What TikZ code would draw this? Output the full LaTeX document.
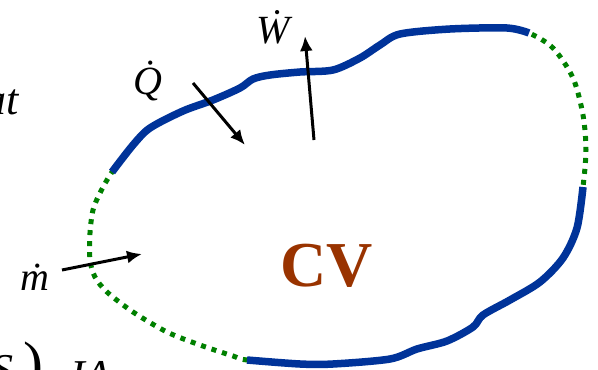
\documentclass[tikz,border=0pt]{standalone}
\usepackage{fontspec}
\setmainfont{Liberation Serif}
\usetikzlibrary{arrows.meta}
\definecolor{cvblue}{RGB}{0,51,153}
\definecolor{cvgreen}{RGB}{0,128,0}
\definecolor{cvbrown}{RGB}{153,51,0}
\tikzset{
  solidb/.style={line width=7.5pt, draw=cvblue, line cap=butt},
  dotg/.style={line width=5pt, draw=cvgreen, dash pattern=on 5pt off 6pt, line cap=butt},
  flow/.style={line width=3pt, -{Latex[length=15pt,width=13pt]}},
  lbl/.style={font=\fontsize{40}{46}\selectfont\itshape, inner sep=0pt},
  frag/.style={font=\fontsize{44}{50}\selectfont\itshape, inner sep=0pt}
}
\begin{document}
\begin{tikzpicture}[x=1pt,y=-1pt]
\useasboundingbox (0,0) rectangle (598,370);
\clip (0,0) rectangle (598,370);
% whole boundary, dotted
\draw[dotg] plot[smooth cycle, tension=0.5] coordinates {
 (112,172) (133,145) (150,128) (183,111) (213,100) (240,88) (253,79) (270,75) (300,72)
 (333,70) (360,58) (380,45) (400,34) (450,29) (507,28) (529,33)
 (553,48) (573,78) (583,115) (586,150) (583,187)
 (577,228) (563,258) (540,282) (510,300) (483,315) (473,327) (447,341) (417,349)
 (390,359) (333,364) (300,364) (247,360)
 (233,356) (200,345) (167,332) (133,312) (107,292) (95,277) (90,260) (90,233)
 (93,210) (100,193)};
% solid parts
\draw[solidb] plot[smooth, tension=0.5] coordinates {
 (112,172) (133,145) (150,128) (183,111) (213,100) (240,88) (253,79) (270,75) (300,72)
 (333,70) (360,58) (380,45) (400,34) (450,29) (507,28) (529,33)};
\draw[solidb] plot[smooth, tension=0.5] coordinates {
 (583,187) (577,228) (563,258) (540,282) (510,300) (483,315) (473,327) (447,341) (417,349)
 (390,359) (333,364) (300,364) (247,360)};
% labels
\node[lbl, anchor=base] (Q) at (148,94) {\.{Q}};
\node[lbl, anchor=base] (W) at (273,43) {\.{W}};
\node[lbl, anchor=base] (m) at (35,290) {\.{m}};
\node[font=\fontsize{64}{70}\selectfont\bfseries, text=cvbrown, inner sep=0pt, anchor=base] (cv) at (327,286) {CV};
% arrows
\coordinate (qs) at (193,83);  \coordinate (qe) at (245,145);
\coordinate (ws) at (314,140); \coordinate (we) at (305,36);
\coordinate (ms) at (62,270);  \coordinate (me) at (142,254);
\draw[flow] (qs) -- (qe);
\draw[flow] (ws) -- (we);
\draw[flow] (ms) -- (me);
% text fragments cut by the frame
\node[frag, anchor=base east] (f1) at (19,114) {at};
\node[frag, anchor=base east] (f2) at (14,384) {S};
\node[font=\fontsize{60}{66}\selectfont, inner sep=0pt, anchor=base west] (f3) at (23,383) {)};
\node[frag, anchor=base west] (f4) at (70,390) {IA};
\end{tikzpicture}
\end{document}
